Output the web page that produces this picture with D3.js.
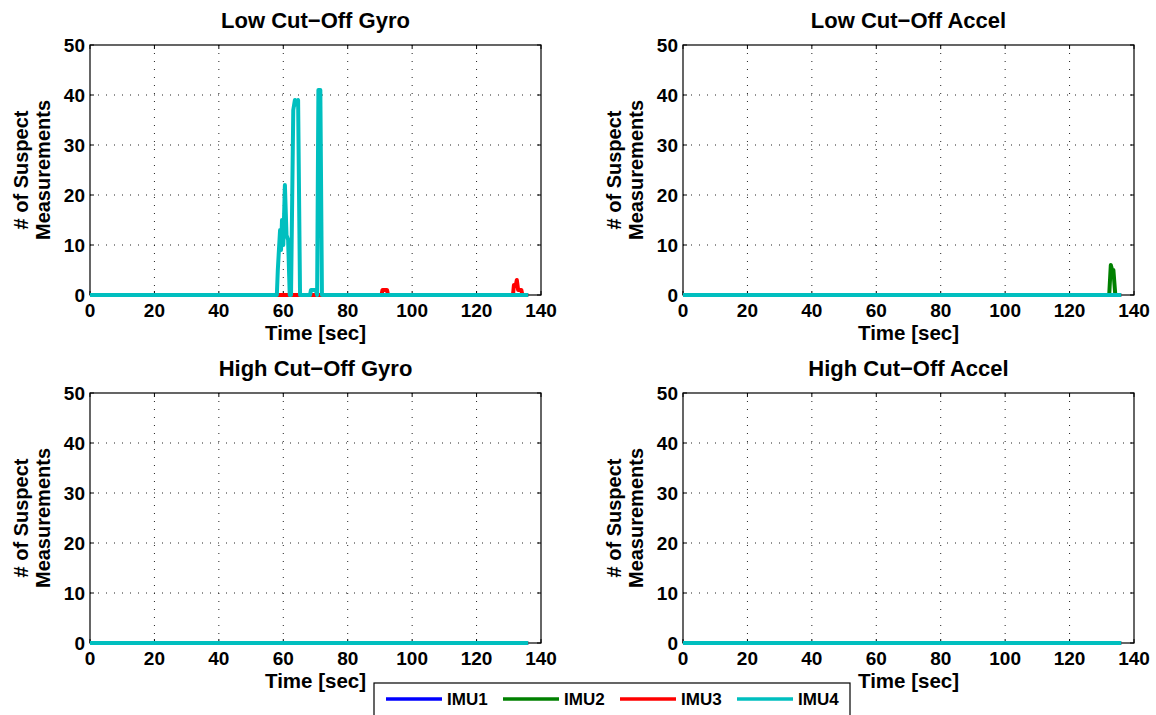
<!DOCTYPE html>
<html>
<head>
<meta charset="utf-8">
<script src="https://cdn.jsdelivr.net/npm/d3@7/dist/d3.min.js"></script>
<style>
  body { margin: 0; background: #fff; }
  text { font-family: "Liberation Sans", Arial, Helvetica, sans-serif; font-weight: bold; fill: #000; }
</style>
</head>
<body>
<svg id="chart" width="1156" height="715"></svg>
<script>
// ---- data ----
const xTicks = [0, 20, 40, 60, 80, 100, 120, 140];
const yTicks = [0, 10, 20, 30, 40, 50];
const seriesNames = ["IMU1", "IMU2", "IMU3", "IMU4"];
const seriesColors = ["#0000ff", "#008000", "#ff0000", "#00bfbf"];

// flat zero series over the whole run
const flatT = [0, 136];
const flatV = [0, 0];

// Low cut-off gyro, IMU4
const lowGyroImu4T = [0, 58.0, 58.3, 59.0, 59.3, 59.6, 60.0, 60.5, 61.0, 61.5, 62.0,
                      62.4, 63.1, 63.6, 64.3, 64.6, 65.2, 68.3, 68.6, 70.1, 70.5, 70.9, 71.5, 72.0, 136];
const lowGyroImu4V = [0, 0, 5, 13, 9, 15, 10, 22, 12, 11, 0,
                      0, 37, 39, 38, 39, 0, 0, 1, 1, 0, 41, 41, 0, 0];
// Low cut-off gyro, IMU3
const lowGyroImu3T = [0, 90.5, 90.8, 92.2, 92.5, 131.3, 131.6, 132.2, 132.5, 132.9, 133.9, 134.2, 136];
const lowGyroImu3V = [0, 0, 1, 1, 0, 0, 2, 2, 3, 1, 1, 0, 0];
// Low cut-off accel, IMU2
const lowAccelImu2T = [0, 132.3, 132.8, 133.2, 133.6, 134.2, 136];
const lowAccelImu2V = [0, 0, 6, 5, 5, 0, 0];

const panels = [
  { title: "Low Cut\u2212Off Gyro", left: 90, top: 45,
    series: [[flatT, flatV], [flatT, flatV], [lowGyroImu3T, lowGyroImu3V], [lowGyroImu4T, lowGyroImu4V]] },
  { title: "Low Cut\u2212Off Accel", left: 683, top: 45,
    series: [[flatT, flatV], [lowAccelImu2T, lowAccelImu2V], [flatT, flatV], [flatT, flatV]] },
  { title: "High Cut\u2212Off Gyro", left: 90, top: 393,
    series: [[flatT, flatV], [flatT, flatV], [flatT, flatV], [flatT, flatV]] },
  { title: "High Cut\u2212Off Accel", left: 683, top: 393,
    series: [[flatT, flatV], [flatT, flatV], [flatT, flatV], [flatT, flatV]] }
];

const width = 451, height = 250;
const svg = d3.select("#chart");

panels.forEach(p => {
  const g = svg.append("g").attr("transform", "translate(" + p.left + "," + p.top + ")");
  const x = d3.scaleLinear().domain([0, 140]).range([0, width]);
  const y = d3.scaleLinear().domain([0, 50]).range([height, 0]);

  // grid
  g.selectAll(".gx").data(xTicks.slice(1, -1)).enter().append("line")
    .attr("x1", d => x(d)).attr("x2", d => x(d))
    .attr("y1", 0).attr("y2", height)
    .attr("stroke", "#222").attr("stroke-width", 1)
    .attr("stroke-dasharray", "1,7");
  g.selectAll(".gy").data(yTicks.slice(1, -1)).enter().append("line")
    .attr("x1", 0).attr("x2", width)
    .attr("y1", d => y(d)).attr("y2", d => y(d))
    .attr("stroke", "#222").attr("stroke-width", 1)
    .attr("stroke-dasharray", "1,7");

  // inner ticks
  xTicks.forEach(t => {
    g.append("line").attr("x1", x(t)).attr("x2", x(t)).attr("y1", height).attr("y2", height - 4).attr("stroke", "#000");
    g.append("line").attr("x1", x(t)).attr("x2", x(t)).attr("y1", 0).attr("y2", 4).attr("stroke", "#000");
  });
  yTicks.forEach(t => {
    g.append("line").attr("x1", 0).attr("x2", 4).attr("y1", y(t)).attr("y2", y(t)).attr("stroke", "#000");
    g.append("line").attr("x1", width).attr("x2", width - 4).attr("y1", y(t)).attr("y2", y(t)).attr("stroke", "#000");
  });

  // box
  g.append("rect").attr("x", 0).attr("y", 0).attr("width", width).attr("height", height)
    .attr("fill", "none").attr("stroke", "#000").attr("stroke-width", 1.2);

  // lines
  const line = d3.line().x(d => x(d[0])).y(d => y(d[1]));
  p.series.forEach((s, i) => {
    const pts = s[0].map((t, k) => [t, s[1][k]]);
    g.append("path").datum(pts)
      .attr("d", line)
      .attr("fill", "none")
      .attr("stroke", seriesColors[i])
      .attr("stroke-width", 4)
      .attr("stroke-linejoin", "round");
  });

  // tick labels
  g.selectAll(".xl").data(xTicks).enter().append("text")
    .attr("x", d => x(d)).attr("y", height + 22)
    .attr("text-anchor", "middle").style("font-size", "19px")
    .text(d => d);
  g.selectAll(".yl").data(yTicks).enter().append("text")
    .attr("x", -5).attr("y", d => y(d) + 7)
    .attr("text-anchor", "end").style("font-size", "19px")
    .text(d => d);

  // title and labels
  g.append("text").attr("x", width / 2).attr("y", -17)
    .attr("text-anchor", "middle").style("font-size", "22px").text(p.title);
  g.append("text").attr("x", width / 2).attr("y", height + 45)
    .attr("text-anchor", "middle").style("font-size", "20.5px").text("Time [sec]");
  g.append("text").attr("transform", "translate(-62," + (height / 2) + ") rotate(-90)")
    .attr("text-anchor", "middle").style("font-size", "20px").text("# of Suspect");
  g.append("text").attr("transform", "translate(-40," + (height / 2) + ") rotate(-90)")
    .attr("text-anchor", "middle").style("font-size", "20px").text("Measurements");
});

// legend
const leg = svg.append("g").attr("transform", "translate(374,683)");
leg.append("rect").attr("x", 0).attr("y", 0).attr("width", 476).attr("height", 40)
  .attr("fill", "#fff").attr("stroke", "#000").attr("stroke-width", 1.2);
seriesNames.forEach((name, i) => {
  const ox = 12 + i * 117;
  leg.append("line").attr("x1", ox).attr("x2", ox + 56).attr("y1", 16).attr("y2", 16)
    .attr("stroke", seriesColors[i]).attr("stroke-width", 3.5);
  leg.append("text").attr("x", ox + 61).attr("y", 22).style("font-size", "17px").text(name);
});
</script>
</body>
</html>
